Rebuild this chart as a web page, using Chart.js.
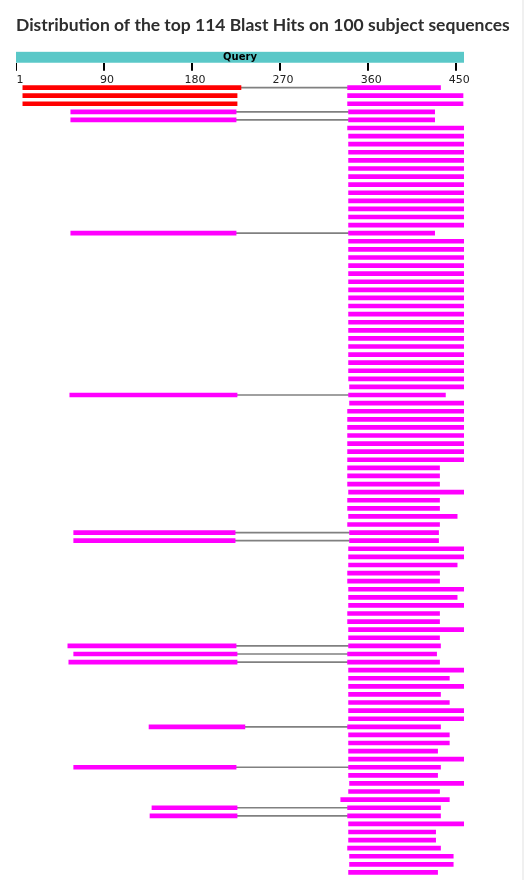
<!DOCTYPE html>
<html><head><meta charset="utf-8">
<script src="https://cdn.jsdelivr.net/npm/chart.js@4.4.1/dist/chart.umd.min.js"></script>
<style>
html,body{margin:0;padding:0;background:#fff;width:524px;height:880px;overflow:hidden;}
#wrap{position:relative;width:524px;height:880px;}
canvas{position:absolute;left:0;}
#top{top:0;}
#hits{top:80px;}
#edge{position:absolute;left:522px;top:0;width:2px;height:880px;background:#f0f0f0;}
</style></head><body>
<div id="wrap"><canvas id="top" width="524" height="90"></canvas><canvas id="hits" width="524" height="800"></canvas><div id="edge"></div></div>
<script>
// ---------- data ----------
const titleText = 'Distribution of the top 114 Blast Hits on 100 subject sequences';
const queryName = 'Query';
const queryRange = [0, 458];
const tickValues = [1, 90, 180, 270, 360, 450];
const tickLabels = ['1', '90', '180', '270', '360', '450'];

// first HSP of each subject row (null = none)
const hsp1 = [
  [7,230],[7,226],[7,226],[56,225],[56,225],null,null,null,null,null,
  null,null,null,null,null,null,null,null,[56,225],null,
  null,null,null,null,null,null,null,null,null,null,
  null,null,null,null,null,null,null,null,[55,226],null,
  null,null,null,null,null,null,null,null,null,null,
  null,null,null,null,null,[59,224],[59,224],null,null,null,
  null,null,null,null,null,null,null,null,null,[53,225],
  [59,226],[54,226],null,null,null,null,null,null,null,[136,234],
  null,null,null,null,[59,225],null,null,null,null,[139,226],
  [137,226],null,null,null,null,null,null,null
];
// second HSP of each subject row
const hsp2 = [
  [339,434],[339,457],[339,457],[340,428],[340,428],[339,458],[340,458],[340,458],[340,458],[340,458],
  [340,458],[340,458],[340,458],[340,458],[340,458],[340,458],[340,458],[340,458],[340,428],[340,458],
  [340,458],[340,458],[340,458],[340,458],[340,458],[340,458],[340,458],[340,458],[340,458],[340,458],
  [340,458],[340,458],[340,458],[340,458],[340,458],[340,458],[340,458],[341,458],[340,439],[341,458],
  [339,458],[339,458],[339,458],[339,458],[339,458],[339,458],[339,458],[339,433],[339,433],[339,433],
  [340,458],[339,433],[339,433],[340,451],[339,433],[341,432],[341,432],[340,458],[340,458],[340,451],
  [339,433],[339,433],[340,458],[340,451],[340,458],[339,433],[339,433],[340,458],[340,433],[340,434],
  [339,430],[339,433],[340,458],[340,443],[340,458],[340,434],[340,443],[340,458],[340,458],[339,434],
  [340,443],[340,443],[340,431],[340,458],[340,434],[340,431],[341,458],[340,433],[332,443],[339,434],
  [339,434],[340,458],[340,429],[340,429],[339,434],[341,447],[341,447],[340,431]
];
// rows whose HSPs are joined by a connector line
const linkedRows = [1,4,5,19,39,56,57,70,71,72,80,85,90,91];
// rows whose first HSP is in the top score class
const highScoreRows = [1,2,3];
const subjects = hsp2.map((_, i) => 'Subject ' + (i + 1));

// ---------- styles ----------
const RED = '#ff0000', MAGENTA = '#ff00ff', TEAL = '#5ac8c8', GREY = '#808080';
const PAD = {left: 16, right: 60};
const XMIN = 0, XMAX = 458;

Chart.defaults.font.family = '"DejaVu Sans", sans-serif';
Chart.defaults.devicePixelRatio = 1;

const queryLabel = {
  id: 'queryLabel',
  afterDatasetsDraw(chart) {
    const bar = chart.getDatasetMeta(0).data[0];
    const ctx = chart.ctx;
    ctx.save();
    ctx.font = 'bold 10px "DejaVu Sans"';
    ctx.fillStyle = '#000';
    ctx.textAlign = 'center';
    ctx.textBaseline = 'middle';
    ctx.fillText(queryName, (bar.x + bar.base) / 2, bar.y + 0.5);
    ctx.restore();
  }
};

new Chart(document.getElementById('top'), {
  type: 'bar',
  data: {
    labels: [queryName],
    datasets: [{ data: [queryRange], backgroundColor: TEAL, borderWidth: 0,
      barPercentage: 1, categoryPercentage: 1 }]
  },
  options: {
    indexAxis: 'y', responsive: false, animation: false,
    layout: { padding: { left: PAD.left, right: 10, top: 0, bottom: 0 } },
    plugins: {
      legend: { display: false }, tooltip: { enabled: false },
      title: { display: true, text: titleText, align: 'start', color: '#2e2e2e',
        font: { family: 'Lato', size: 17.5, weight: 'bold', lineHeight: 1.2 },
        padding: { top: 15.3, bottom: 15.4 } }
    },
    scales: {
      x: { type: 'linear', position: 'bottom', min: XMIN, max: XMAX,
        afterBuildTicks: ax => { ax.ticks = tickValues.map(v => ({ value: v })); },
        ticks: { callback: (v, i) => tickLabels[i], color: '#222', padding: 3, labelOffset: 3,
          autoSkip: false, maxRotation: 0, font: { size: 11 } },
        grid: { drawOnChartArea: false, drawTicks: true, tickLength: 8, color: '#000',
          lineWidth: c => (c.index === 0 ? 1 : 2) },
        border: { display: false } },
      y: { display: false },
      // empty spacer axis so the plot matches the hits panel while the title keeps full width
      yRight: { type: 'linear', position: 'right', display: true,
        grid: { display: false }, border: { display: false }, ticks: { display: false },
        afterFit: s => { s.width = PAD.right - 10; } }
    }
  },
  plugins: [queryLabel]
});

const connectors = hsp2.map((seg, i) =>
  linkedRows.includes(i + 1) && hsp1[i] ? [hsp1[i][1], seg[0]] : null);

new Chart(document.getElementById('hits'), {
  type: 'bar',
  data: {
    labels: subjects,
    datasets: [
      { label: 'HSP 1', data: hsp1, grouped: false, barThickness: 4, borderWidth: 0,
        backgroundColor: c => (highScoreRows.includes(c.dataIndex + 1) ? RED : MAGENTA) },
      { label: 'HSP 2', data: hsp2, grouped: false, barThickness: 4, borderWidth: 0,
        backgroundColor: MAGENTA },
      { label: 'link', data: connectors, grouped: false, barThickness: 1, borderWidth: 0,
        backgroundColor: GREY }
    ]
  },
  options: {
    indexAxis: 'y', responsive: false, animation: false,
    layout: { padding: { left: PAD.left, right: PAD.right, top: 3.5, bottom: 3.5 } },
    plugins: { legend: { display: false }, tooltip: { enabled: false }, title: { display: false } },
    scales: {
      x: { type: 'linear', min: XMIN, max: XMAX, display: false },
      y: { display: false }
    }
  }
});
</script>
</body></html>
